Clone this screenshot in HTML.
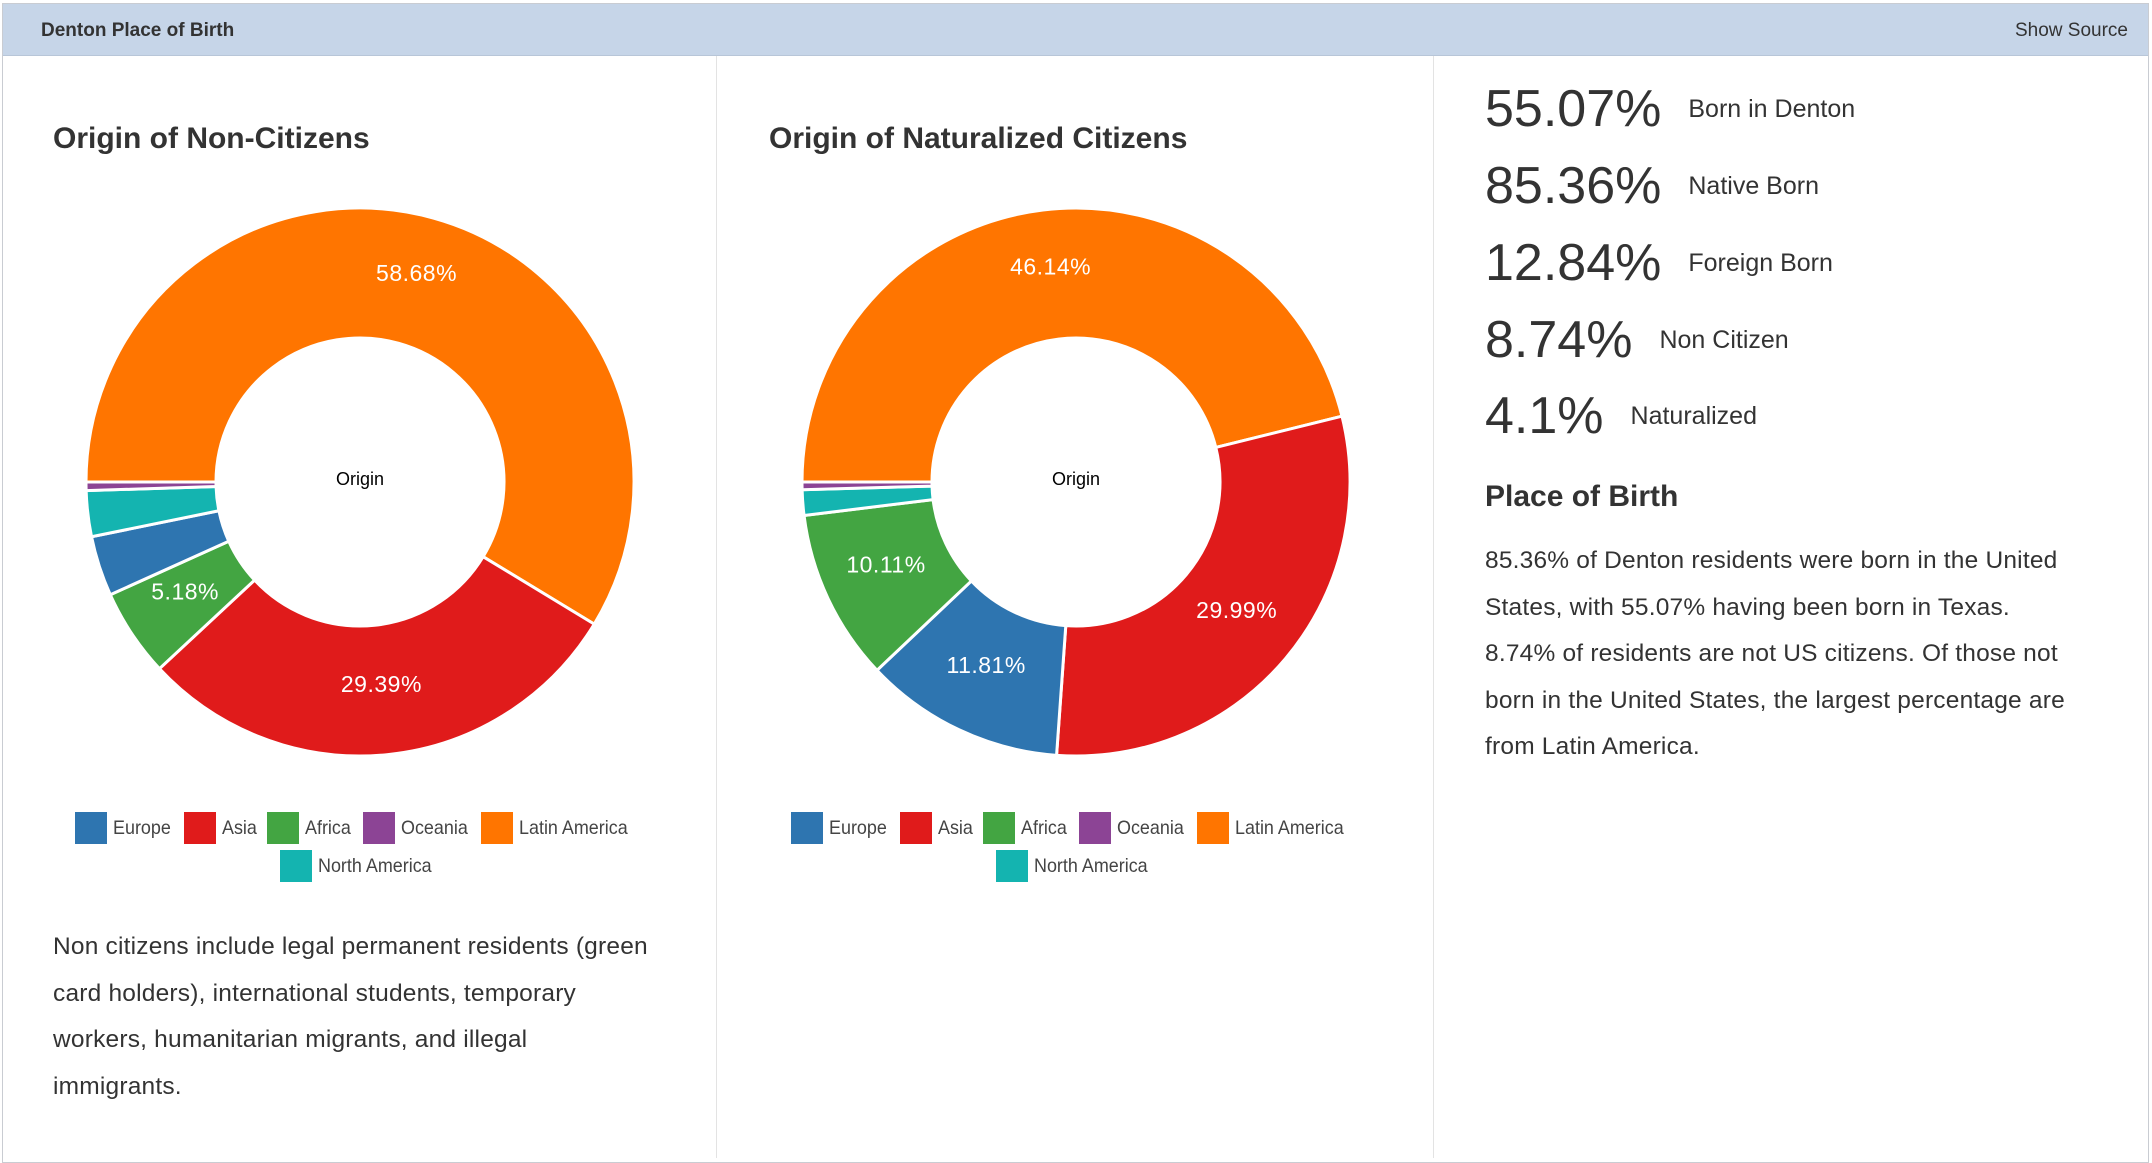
<!DOCTYPE html>
<html><head><meta charset="utf-8"><style>
*{margin:0;padding:0;box-sizing:border-box}
body{width:2152px;height:1158px;background:#fff;font-family:"Liberation Sans",sans-serif;color:#333;position:relative;overflow:hidden}
#frame{position:absolute;left:2px;top:3px;width:2147px;height:1160px;border:1px solid #c9ccd2}
#hdr{position:absolute;left:3px;top:4px;width:2145px;height:52px;background:#c6d5e8;border-bottom:1px solid #b8c6d8}
#hdr .t{position:absolute;left:38px;top:16px;font-size:19px;font-weight:bold;color:#333}
#hdr .s{position:absolute;right:20px;top:16px;font-size:19px;color:#333}
.div{position:absolute;top:56px;width:1px;height:1102px;background:#e3e3e3}
.ttl{position:absolute;top:122px;font-size:30px;font-weight:bold;color:#333}
.lg{position:absolute;font-size:19.5px;color:#444;white-space:nowrap}
.lg span{position:absolute;width:32px;height:32px;top:0}
.lg b{position:absolute;left:38px;top:5px;font-weight:normal;transform:scaleX(0.92);transform-origin:left}
.para{position:absolute;font-size:24.5px;line-height:46.5px;color:#333;letter-spacing:0.2px}
.stat{position:absolute;left:1485px;display:flex;align-items:center}
.stat .n{font-size:52px;color:#333}
.stat .l{font-size:25px;color:#333;margin-left:27px}
</style></head><body>
<div id="frame"></div>
<div id="hdr"><div class="t">Denton Place of Birth</div><div class="s">Show Source</div></div>
<div class="div" style="left:716px"></div>
<div class="div" style="left:1433px"></div>
<div class="ttl" style="left:53px">Origin of Non-Citizens</div>
<div class="ttl" style="left:769px">Origin of Naturalized Citizens</div>
<svg id="chart" width="2152" height="1158" style="position:absolute;left:0;top:0"></svg>
<div id="legends"></div>
<div class="para" style="left:53px;top:924px;width:600px">Non citizens include legal permanent residents (green card holders), international students, temporary workers, humanitarian migrants, and illegal immigrants.</div>
<div class="stat" style="top:79px"><span class="n">55.07%</span><span class="l">Born in Denton</span></div>
<div class="stat" style="top:156px"><span class="n">85.36%</span><span class="l">Native Born</span></div>
<div class="stat" style="top:233px"><span class="n">12.84%</span><span class="l">Foreign Born</span></div>
<div class="stat" style="top:310px"><span class="n">8.74%</span><span class="l">Non Citizen</span></div>
<div class="stat" style="top:386px"><span class="n">4.1%</span><span class="l">Naturalized</span></div>
<div class="ttl" style="left:1485px;top:480px">Place of Birth</div>
<div class="para" style="left:1485px;top:538px;width:590px">85.36% of Denton residents were born in the United States, with 55.07% having been born in Texas. 8.74% of residents are not US citizens. Of those not born in the United States, the largest percentage are from Latin America.</div>
<script>
const categories=["Latin America","Asia","Africa","Europe","North America","Oceania"];
const nonCitizenValues=[58.68,29.39,5.18,3.55,2.70,0.50];
const naturalizedValues=[46.14,29.99,10.11,11.81,1.50,0.45];
const legendOrder=["Europe","Asia","Africa","Oceania","Latin America","North America"];
const colors={"Europe":"#2e75b0","Asia":"#e01b1b","Africa":"#43a542","Oceania":"#8c4495","Latin America":"#ff7500","North America":"#14b4b0"};
const NS="http://www.w3.org/2000/svg";
const svg=document.getElementById('chart');
function pt(cx,cy,r,deg){const a=deg*Math.PI/180;return [cx+r*Math.sin(a),cy-r*Math.cos(a)];}
function donut(cx,cy,values,name){
  const R=274,r=144,total=values.reduce((a,b)=>a+b,0);
  const idx=values.map((v,i)=>i).sort((a,b)=>values[b]-values[a]);
  let ang=270;
  idx.forEach(i=>{
    const sweep=values[i]/total*360,a0=ang,a1=ang+sweep;ang=a1;
    const p0=pt(cx,cy,R,a0),p1=pt(cx,cy,R,a1),q1=pt(cx,cy,r,a1),q0=pt(cx,cy,r,a0);
    const lg=sweep>180?1:0;
    const p=document.createElementNS(NS,'path');
    p.setAttribute('d',`M${p0[0]},${p0[1]}A${R},${R} 0 ${lg} 1 ${p1[0]},${p1[1]}L${q1[0]},${q1[1]}A${r},${r} 0 ${lg} 0 ${q0[0]},${q0[1]}Z`);
    p.setAttribute('fill',colors[categories[i]]);p.setAttribute('stroke','#fff');p.setAttribute('stroke-width','3');
    
    
    svg.appendChild(p);
    if(values[i]>=5){
      const m=pt(cx,cy,(R+r)/2+1,(a0+a1)/2);
      const t=document.createElementNS(NS,'text');
      t.setAttribute('x',m[0]);t.setAttribute('y',m[1]+1);t.setAttribute('text-anchor','middle');
      t.setAttribute('fill','#fff');t.setAttribute('font-size','23');t.setAttribute('font-family','Liberation Sans, sans-serif');
      t.setAttribute('letter-spacing','0.5');
      t.textContent=values[i].toFixed(2)+'%';
      
      
      svg.appendChild(t);
    }
  });
  const c=document.createElementNS(NS,'text');
  c.setAttribute('x',cx);c.setAttribute('y',cy+3);c.setAttribute('text-anchor','middle');c.setAttribute('font-size','18');c.setAttribute('fill','#000');c.setAttribute('font-family','Liberation Sans, sans-serif');
  c.textContent='Origin';
  
  
  svg.appendChild(c);
}
donut(360,482,nonCitizenValues,'non');
donut(1076,482,naturalizedValues,'nat');
const legRow1=[75,184,267,363,481];
function legend(off){
  const box=document.getElementById('legends');
  legendOrder.forEach((k,j)=>{
    const d=document.createElement('div');d.className='lg';
    const x=j<5?legRow1[j]:280, y=j<5?812:850;
    d.style.left=(x+off)+'px';d.style.top=y+'px';
    d.innerHTML=`<span style="background:${colors[k]}"></span><b>${k}</b>`;
    
    
    box.appendChild(d);
  });
}
legend(0);legend(716);
</script>
</body></html>
